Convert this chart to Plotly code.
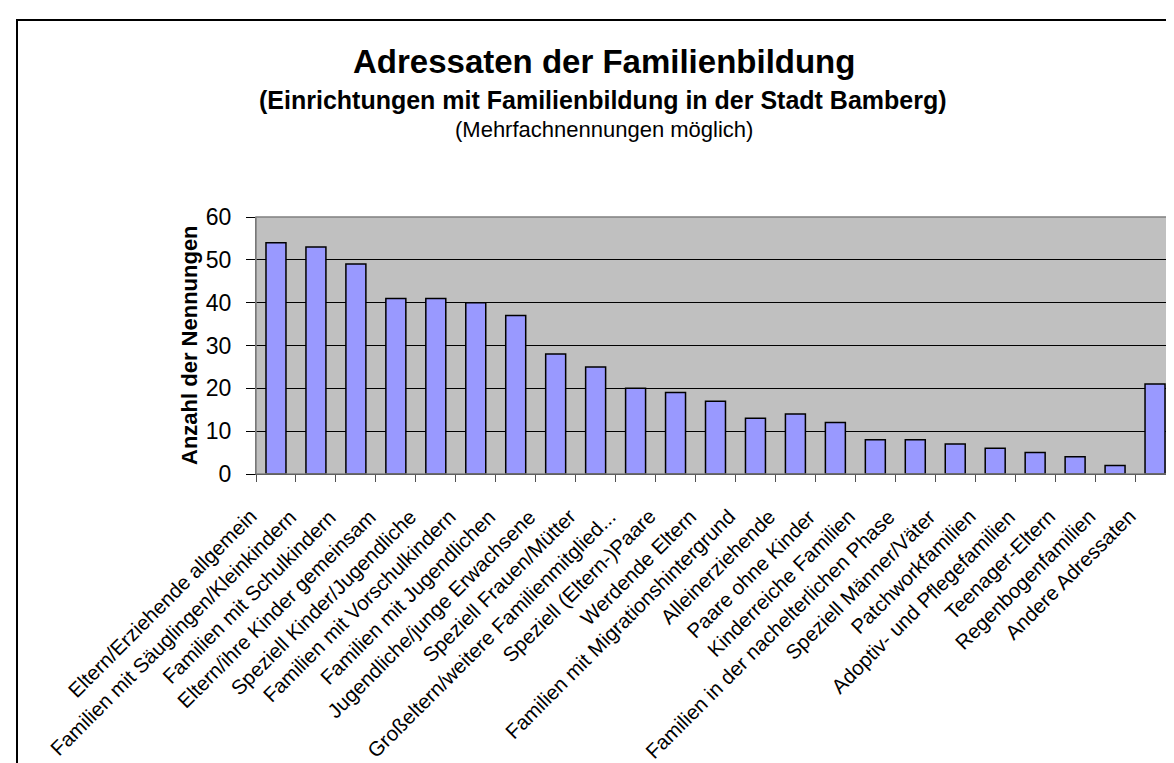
import plotly.graph_objects as go

CATEGORIES = [
    'Eltern/Erziehende allgemein',
    'Familien mit Säuglingen/Kleinkindern',
    'Familien mit Schulkindern',
    'Eltern/ihre Kinder gemeinsam',
    'Speziell Kinder/Jugendliche',
    'Familien mit Vorschulkindern',
    'Familien mit Jugendlichen',
    'Jugendliche/junge Erwachsene',
    'Speziell Frauen/Mütter',
    'Großeltern/weitere Familienmitglied...',
    'Speziell (Eltern-)Paare',
    'Werdende Eltern',
    'Familien mit Migrationshintergrund',
    'Alleinerziehende',
    'Paare ohne Kinder',
    'Kinderreiche Familien',
    'Familien in der nachelterlichen Phase',
    'Speziell Männer/Väter',
    'Patchworkfamilien',
    'Adoptiv- und Pflegefamilien',
    'Teenager-Eltern',
    'Regenbogenfamilien',
    'Andere Adressaten',
]
NENNUNGEN = [54, 53, 49, 41, 41, 40, 37, 28, 25, 20, 19, 17, 13, 14, 12, 8, 8, 7, 6, 5, 4, 2, 21]
Y_TICKS = [0, 10, 20, 30, 40, 50, 60]

TITLE = 'Adressaten der Familienbildung'
SUBTITLE = '(Einrichtungen mit Familienbildung in der Stadt Bamberg)'
NOTE = '(Mehrfachnennungen möglich)'
Y_TITLE = 'Anzahl der Nennungen'

W, H = 1174, 763
# plot area in pixels
L, R, T, B = 248, 1167, 209, 466
FONT = 'Arial, Liberation Sans, sans-serif'


def px_x(x):
    return (x - L) / (R - L)


def px_y(y):
    return (B - y) / (B - T)


idx = list(range(len(CATEGORIES)))

fig = go.Figure()
fig.add_trace(go.Bar(
    x=idx,
    y=NENNUNGEN,
    customdata=CATEGORIES,
    marker=dict(color='#9999FF', line=dict(color='#000000', width=1.5)),
    hovertemplate='%{customdata}: %{y}<extra></extra>',
))

fig.update_layout(
    width=W, height=H,
    margin=dict(l=L, r=W - R, t=T, b=H - B, pad=0),
    paper_bgcolor='white',
    plot_bgcolor='#C0C0C0',
    bargap=0.5,
    showlegend=False,
    font=dict(family=FONT, color='black'),
    xaxis=dict(
        range=[-0.5, len(CATEGORIES) - 0.5],
        tickvals=[i - 0.5 for i in range(len(CATEGORIES) + 1)],
        showticklabels=False,
        ticks='outside', ticklen=7, tickcolor='#505050', tickwidth=1,
        showline=True, linecolor='black', linewidth=1,
        showgrid=False, zeroline=False,
    ),
    yaxis=dict(
        range=[0, 60],
        tickvals=Y_TICKS,
        ticks='outside', ticklen=9, tickcolor='black', tickwidth=1,
        tickfont=dict(size=23, family=FONT, color='black'),
        ticklabelstandoff=10,
        showline=True, linecolor='#606060', linewidth=1,
        showgrid=True, gridcolor='black', gridwidth=1,
        zeroline=False,
    ),
)

# category labels, rotated like Excel: text end sits left of the bar centre
for i, name in zip(idx, CATEGORIES):
    fig.add_annotation(text=name, x=i, y=0, xref='x', yref='y',
                       xanchor='right', yanchor='top', textangle=-45,
                       xshift=-13, yshift=-28, showarrow=False,
                       font=dict(size=20.5, family=FONT, color='black'))

# plot area border (gray) and outer chart frame (black)
fig.add_shape(type='rect', xref='paper', yref='paper', x0=0, x1=1, y0=0, y1=1,
              line=dict(color='#808080', width=1.5), layer='above')
fig.add_shape(type='rect', xref='paper', yref='paper',
              x0=px_x(9), x1=px_x(1172), y0=px_y(790), y1=px_y(12),
              line=dict(color='black', width=2))

fig.add_annotation(text='<b>' + TITLE + '</b>', xref='paper', yref='paper',
                   x=px_x(596), y=px_y(54), showarrow=False,
                   xanchor='center', yanchor='middle',
                   font=dict(size=33, family=FONT, color='black'))
fig.add_annotation(text='<b>' + SUBTITLE + '</b>', xref='paper', yref='paper',
                   x=px_x(595), y=px_y(92), showarrow=False,
                   xanchor='center', yanchor='middle',
                   font=dict(size=25, family=FONT, color='black'))
fig.add_annotation(text=NOTE, xref='paper', yref='paper',
                   x=px_x(596), y=px_y(121), showarrow=False,
                   xanchor='center', yanchor='middle',
                   font=dict(size=22, family=FONT, color='black'))
fig.add_annotation(text='<b>' + Y_TITLE + '</b>', xref='paper', yref='paper',
                   x=px_x(181), y=px_y(337), showarrow=False, textangle=-90,
                   xanchor='center', yanchor='middle',
                   font=dict(size=22, family=FONT, color='black'))

fig.write_html('out.html')
